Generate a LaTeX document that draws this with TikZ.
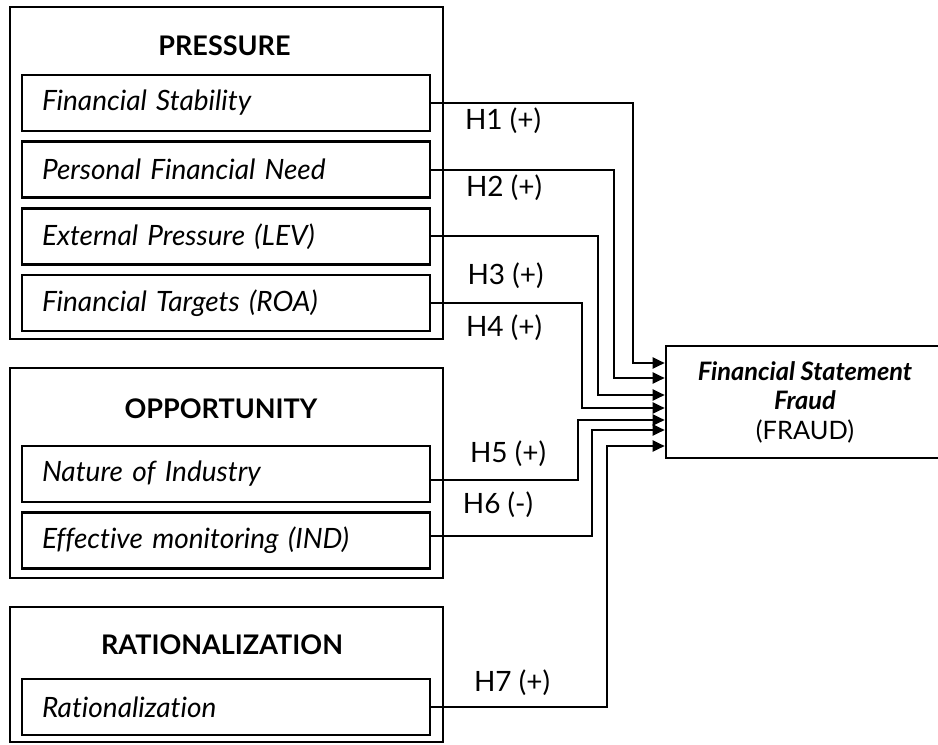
\documentclass[tikz,border=0pt]{standalone}
\usepackage{fontspec}
\setmainfont{Lato}[Ligatures=NoCommon]
\usetikzlibrary{positioning, arrows.meta}
\tikzset{
->, % every connector is directed
>={Triangle[length=6pt,width=5.5pt]}, % filled arrow heads
node distance=4pt, % gap between the stacked factor boxes
group/.style={draw, line width=1.3pt, minimum width=216.5pt}, % outer block
factor/.style={draw, line width=1.3pt, text width=184pt, inner xsep=10pt, minimum height=28pt, align=left, font=\fontsize{14}{16}\selectfont\itshape}, % inner box
heading/.style={font=\fontsize{13.5}{16}\selectfont\bfseries},
hyp/.style={font=\fontsize{14}{16}\selectfont},
link/.style={line width=1pt},
}

\begin{document}
\begin{tikzpicture}[x=0.5pt, y=-0.5pt]
        \useasboundingbox (0,0) rectangle (938,745);

        % the three blocks
        \node[group, minimum height=166pt] (pressure) at (226.5,173) {};
        \node[group, minimum height=105pt] (opport) at (226.5,473) {};
        \node[group, minimum height=67.5pt] (ration) at (226.5,674.5) {};
        \node[heading] (tpress) at (224.5,46) {PRESSURE};
        \node[heading] (topp) at (221,409) {OPPORTUNITY};
        \node[heading] (trat) at (222,645) {RATIONALIZATION};

        % factors
        \node[factor] (fs) at (226,103) {Financial Stability};
        \node[factor, below=of fs] (pfn) {Personal Financial Need};
        \node[factor, below=of pfn] (ep) {External Pressure (LEV)};
        \node[factor, below=of ep] (ft) {Financial Targets (ROA)};
        \node[factor] (noi) at (226,474) {Nature of Industry};
        \node[factor, below=of noi] (em) {Effective monitoring (IND)};
        \node[factor] (rat) at (226,707) {Rationalization};

        % dependent variable
        \node[draw, line width=1.3pt, minimum width=139pt, minimum height=56pt, align=center, font=\fontsize{12.7}{14.75}\selectfont] (fraud) at (805,402)
            {\bfseries\itshape Financial Statement\\\bfseries\itshape Fraud\\(FRAUD)};
        \coordinate (in1) at ([yshift=19.5pt]fraud.west);
        \coordinate (in2) at ([yshift=12pt]fraud.west);
        \coordinate (in3) at ([yshift=3.5pt]fraud.west);
        \coordinate (in4) at ([yshift=-3pt]fraud.west);
        \coordinate (in5) at ([yshift=-9pt]fraud.west);
        \coordinate (in6) at ([yshift=-14pt]fraud.west);
        \coordinate (in7) at ([yshift=-22pt]fraud.west);

        % hypotheses
        \draw[link] (fs.east) -- (fs.east -| 633,0) |- (in1);
        \draw[link] (pfn.east) -- (pfn.east -| 614,0) |- (in2);
        \draw[link] (ep.east) -- (ep.east -| 598,0) |- (in3);
        \draw[link] (ft.east) -- (ft.east -| 582,0) |- (in4);
        \draw[link] ([yshift=-3pt]noi.east) -- ([yshift=-3pt]noi.east -| 578,0) |- (in5);
        \draw[link] ([yshift=2.5pt]em.east) -- ([yshift=2.5pt]em.east -| 592,0) |- (in6);
        \draw[link] (rat.east) -- (rat.east -| 607,0) |- (in7);

        \node[hyp] (h1) at (503,121) {H1 (+)};
        \node[hyp] (h2) at (504,188) {H2 (+)};
        \node[hyp] (h3) at (505.5,276) {H3 (+)};
        \node[hyp] (h4) at (504,328) {H4 (+)};
        \node[hyp] (h5) at (508,454) {H5 (+)};
        \node[hyp] (h6) at (498,505) {H6 (-)};
        \node[hyp] (h7) at (512,683) {H7 (+)};
\end{tikzpicture}
\end{document}
